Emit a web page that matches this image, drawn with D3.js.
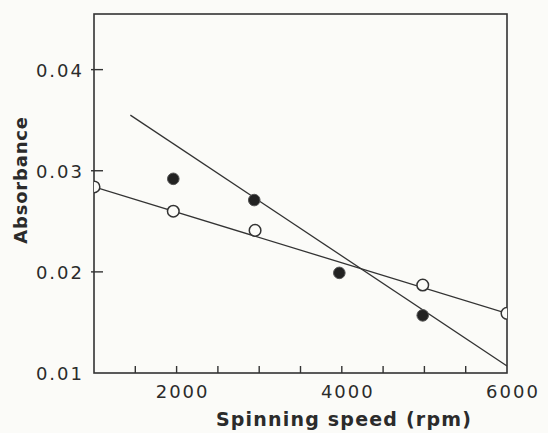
<!DOCTYPE html>
<html>
<head>
<meta charset="utf-8">
<script src="https://cdn.jsdelivr.net/npm/d3@7"></script>
<style>
  body { margin: 0; background: #fbfbf8; }
  svg { display: block; }
  text { font-family: "DejaVu Sans", sans-serif; fill: #2b2b2b; }
</style>
</head>
<body>
<svg id="chart" width="548" height="433"></svg>
<script>
// spinning speed (rpm) vs absorbance
const filledX = [1960, 2940, 3970, 4980];
const filledY = [0.0292, 0.0271, 0.0199, 0.0157];
const openX = [1000, 1960, 2950, 4980, 6000];
const openY = [0.0284, 0.0260, 0.0241, 0.0187, 0.0159];
const filledFitX = [1440, 6000];
const filledFitY = [0.0355, 0.0107];
const openFitX = [1000, 6000];
const openFitY = [0.0284, 0.0159];
const xTicks = [1500, 2000, 2500, 3000, 3500, 4000, 4500, 5000, 5500];
const xLabels = [2000, 4000, 6000];
const yTicks = [0.01, 0.02, 0.03, 0.04];

const svg = d3.select('#chart');
const x = d3.scaleLinear().domain([1000, 6000]).range([94, 507]);
const y = d3.scaleLinear().domain([0.01, 0.0455]).range([373, 14]);
const ink = '#333';

svg.append('defs').append('clipPath').attr('id', 'plot')
    .append('rect').attr('x', x(1000)).attr('y', y(0.0455))
    .attr('width', x(6000) - x(1000)).attr('height', y(0.01) - y(0.0455));

// frame
svg.append('rect')
    .attr('x', x(1000)).attr('y', y(0.0455))
    .attr('width', x(6000) - x(1000)).attr('height', y(0.01) - y(0.0455))
    .style('fill', 'none').style('stroke', ink).style('stroke-width', 1.6);

// ticks point inward
svg.append('g').selectAll('line').data(xTicks).enter().append('line')
    .attr('x1', d => x(d)).attr('x2', d => x(d))
    .attr('y1', y(0.01)).attr('y2', y(0.01) - 7)
    .style('stroke', ink).style('stroke-width', 1.4);
svg.append('g').selectAll('line').data(yTicks.slice(1)).enter().append('line')
    .attr('x1', x(1000) - 3).attr('x2', x(1000) + 9)
    .attr('y1', d => y(d)).attr('y2', d => y(d))
    .style('stroke', ink).style('stroke-width', 1.4);

svg.append('g').selectAll('text').data(yTicks).enter().append('text')
    .attr('x', 84).attr('y', d => y(d) + 7)
    .attr('text-anchor', 'end')
    .style('font-size', '18px').style('letter-spacing', '2px')
    .text(d => d.toFixed(2));
svg.append('g').selectAll('text').data(xLabels).enter().append('text')
    .attr('x', d => x(d) + 6).attr('y', 398)
    .attr('text-anchor', 'middle')
    .style('font-size', '18px').style('letter-spacing', '2px')
    .text(d => d);

svg.append('text')
    .attr('transform', 'translate(27,180) rotate(-90)')
    .attr('text-anchor', 'middle')
    .style('font-size', '18px').style('font-weight', 'bold').style('letter-spacing', '0.8px')
    .text('Absorbance');
svg.append('text')
    .attr('x', 344).attr('y', 426)
    .attr('text-anchor', 'middle')
    .style('font-size', '19px').style('font-weight', 'bold').style('letter-spacing', '1.2px')
    .text('Spinning speed (rpm)');

const plot = svg.append('g').attr('clip-path', 'url(#plot)');
const line = d3.line().x(d => x(d[0])).y(d => y(d[1]));
plot.append('path').datum(d3.zip(filledFitX, filledFitY)).attr('d', line)
    .style('fill', 'none').style('stroke', ink).style('stroke-width', 1.3);
plot.append('path').datum(d3.zip(openFitX, openFitY)).attr('d', line)
    .style('fill', 'none').style('stroke', ink).style('stroke-width', 1.3);

plot.append('g').selectAll('circle').data(d3.zip(openX, openY)).enter().append('circle')
    .attr('cx', d => x(d[0])).attr('cy', d => y(d[1])).attr('r', 5.8)
    .style('fill', '#fbfbf8').style('stroke', ink).style('stroke-width', 1.5);
plot.append('g').selectAll('circle').data(d3.zip(filledX, filledY)).enter().append('circle')
    .attr('cx', d => x(d[0])).attr('cy', d => y(d[1])).attr('r', 5.8)
    .style('fill', '#222').style('stroke', '#555').style('stroke-width', 1);
</script>
</body>
</html>
